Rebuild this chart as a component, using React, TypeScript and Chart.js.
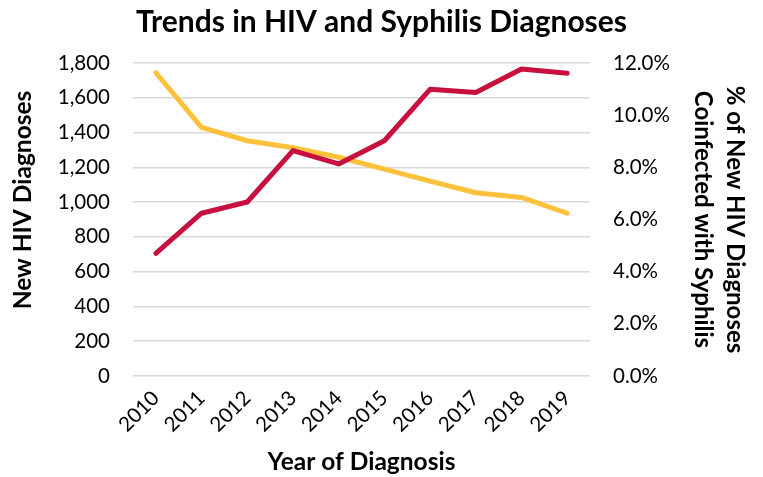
import React, { useEffect, useRef } from "react";
import { Chart, registerables } from "chart.js";

Chart.register(...registerables);

const years = ["2010", "2011", "2012", "2013", "2014", "2015", "2016", "2017", "2018", "2019"];
const newHivDiagnoses = [1744, 1430, 1353, 1313, 1258, 1190, 1121, 1054, 1027, 936];
const pctCoinfected = [4.7, 6.24, 6.67, 8.64, 8.13, 9.02, 10.99, 10.87, 11.77, 11.61];
const leftTicksMax = 1800;
const rightTicksMax = 12;
const leftAxisTitle = "New HIV Diagnoses";

const FONT = "Lato, 'Noto Sans', sans-serif";

const leftTitlePlugin = {
  id: "leftTitle",
  afterDraw(chart: any) {
    const ctx = chart.ctx;
    ctx.save();
    ctx.translate(23, 200);
    ctx.rotate(-Math.PI / 2);
    ctx.font = `bold 24.5px ${FONT}`;
    ctx.fillStyle = "#000";
    ctx.textAlign = "center";
    ctx.textBaseline = "middle";
    ctx.fillText(leftAxisTitle, 0, 0);
    ctx.restore();
  },
};

export default function App() {
  const ref = useRef<HTMLCanvasElement | null>(null);
  useEffect(() => {
    if (!ref.current) return;
    const chart = new Chart(ref.current, {
      type: "line",
      data: {
        labels: years,
        datasets: [
          {
            label: "% Coinfected with Syphilis",
            data: pctCoinfected,
            yAxisID: "y1",
            borderColor: "#C8103E",
            backgroundColor: "#C8103E",
            borderWidth: 5,
            pointRadius: 0,
            borderCapStyle: "round",
            borderJoinStyle: "round",
            tension: 0,
            order: 0,
          },
          {
            label: "New HIV Diagnoses",
            data: newHivDiagnoses,
            yAxisID: "y",
            borderColor: "#FFC03B",
            backgroundColor: "#FFC03B",
            borderWidth: 5,
            pointRadius: 0,
            borderCapStyle: "round",
            borderJoinStyle: "round",
            tension: 0,
            order: 1,
          },
        ],
      },
      plugins: [leftTitlePlugin],
      options: {
        animation: false,
        responsive: false,
        maintainAspectRatio: false,
        layout: { padding: 0 },
        plugins: {
          legend: { display: false },
          tooltip: { enabled: false },
          title: {
            display: true,
            text: "Trends in HIV and Syphilis Diagnoses",
            color: "#000",
            font: { family: FONT, size: 30, weight: "bold", lineHeight: 1.2 },
            padding: { top: 4, bottom: 23 },
          },
        },
        scales: {
          x: {
            offset: true,
            grid: { display: false, drawTicks: false },
            border: { display: false },
            ticks: {
              color: "#000",
              font: { family: FONT, size: 20.5 },
              minRotation: 45,
              maxRotation: 45,
              padding: 10,
              autoSkip: false,
            },
            title: {
              display: true,
              text: "Year of Diagnosis",
              color: "#000",
              font: { family: FONT, size: 24.5, weight: "bold", lineHeight: 1.2 },
              padding: { top: 0, bottom: 0 },
            },
            afterFit: (s: any) => {
              s.height = 101;
            },
          },
          y: {
            position: "left",
            min: 0,
            max: leftTicksMax,
            grid: { color: "#d9d9d9", lineWidth: 1.5, drawTicks: false },
            border: { display: false },
            ticks: {
              stepSize: 200,
              color: "#000",
              font: { family: FONT, size: 20.5 },
              padding: 23,
              callback: (v: any) => Number(v).toLocaleString("en-US"),
            },
            title: { display: false },
            afterFit: (s: any) => {
              s.width = 133;
            },
          },
          y1: {
            position: "right",
            min: 0,
            max: rightTicksMax,
            grid: { display: false, drawTicks: false },
            border: { display: false },
            ticks: {
              stepSize: 2,
              color: "#000",
              font: { family: FONT, size: 20.5 },
              padding: 23,
              callback: (v: any) => Number(v).toFixed(1) + "%",
            },
            title: {
              display: true,
              text: ["% of New HIV Diagnoses", "Coinfected with Syphilis"],
              color: "#000",
              font: { family: FONT, size: 24, weight: "bold", lineHeight: 1.333 },
              padding: { top: 12, bottom: 0 },
            },
            afterFit: (s: any) => {
              s.width = 173;
            },
          },
        },
      },
    });
    return () => chart.destroy();
  }, []);
  return (
    <div style={{ position: "fixed", left: 0, top: 0, width: 763, height: 477, background: "#fff" }}>
      <canvas ref={ref} width={763} height={477} style={{ width: 763, height: 477, display: "block" }} />
    </div>
  );
}
